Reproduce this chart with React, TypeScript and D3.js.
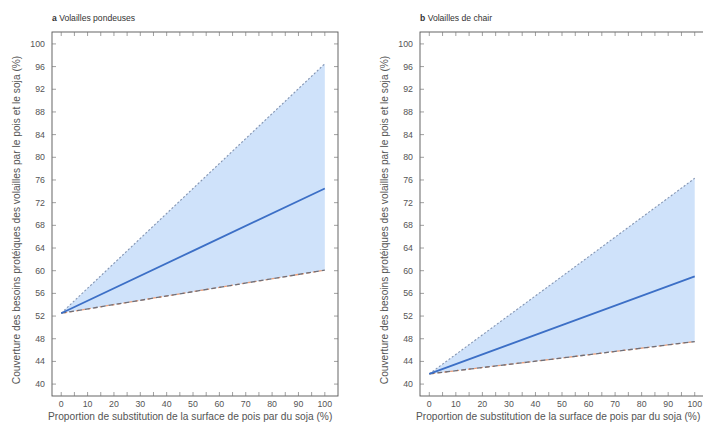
import React, { useEffect, useRef } from 'react';
import * as d3 from 'd3';

// substitution share (%) where values were read
const substitution = [0, 50, 100];

// a: laying hens
const layersMean = [52.5, 63.5, 74.5];
const layersHigh = [52.5, 74.5, 96.5];
const layersLow = [52.5, 56.3, 60.1];

// b: broilers
const broilersMean = [41.8, 50.4, 59.0];
const broilersHigh = [41.8, 59.0, 76.3];
const broilersLow = [41.8, 44.6, 47.5];

const yTicks = d3.range(40, 101, 4);
const xLabelTicks = d3.range(0, 101, 10);
const xMinorTicks = d3.range(0, 101, 5);

const yTitle = 'Couverture des besoins protéiques des volailles par le pois et le soja (%)';
const xTitle = 'Proportion de substitution de la surface de pois par du soja (%)';

interface PanelSpec {
  letter: string;
  title: string;
  mean: number[];
  high: number[];
  low: number[];
  left: number;
  right: number;
}

const panels: PanelSpec[] = [
  { letter: 'a', title: 'Volailles pondeuses', mean: layersMean, high: layersHigh, low: layersLow, left: 52, right: 338 },
  { letter: 'b', title: 'Volailles de chair', mean: broilersMean, high: broilersHigh, low: broilersLow, left: 420, right: 708 },
];

const TOP = 32;
const BOTTOM = 396;
const FONT = 'Liberation Sans, Arial, sans-serif';

export default function App() {
  const svgRef = useRef<SVGSVGElement>(null);

  useEffect(() => {
    if (!svgRef.current) return;
    const svg = d3.select(svgRef.current);
    svg.selectAll('*').remove();

    panels.forEach(p => {
      const x = d3.scaleLinear().domain([-3.5, 105]).range([p.left, p.right]);
      const y = d3.scaleLinear().domain([37.9, 102.1]).range([BOTTOM, TOP]);
      const g = svg.append('g');

      const pts = substitution.map((s, i) => ({ s, m: p.mean[i], h: p.high[i], l: p.low[i] }));

      // uncertainty band
      const area = d3.area<typeof pts[0]>()
        .x(d => x(d.s))
        .y0(d => y(d.l))
        .y1(d => y(d.h));
      g.append('path').attr('d', area(pts)).attr('fill', '#cfe2fa');

      const line = (key: 'm' | 'h' | 'l') =>
        d3.line<typeof pts[0]>().x(d => x(d.s)).y(d => y(d[key]))(pts);

      // upper bound, dotted
      g.append('path').attr('d', line('h')).attr('fill', 'none')
        .attr('stroke', '#8596b3').attr('stroke-width', 1.1).attr('stroke-dasharray', '2,2');
      // lower bound, dashed (two overlapped scenarios)
      g.append('path').attr('d', line('l')).attr('fill', 'none')
        .attr('stroke', '#eea07a').attr('stroke-width', 1.3).attr('stroke-dasharray', '3,3')
        .attr('stroke-dashoffset', 3);
      g.append('path').attr('d', line('l')).attr('fill', 'none')
        .attr('stroke', '#6f6f78').attr('stroke-width', 1.3).attr('stroke-dasharray', '5,3');
      // mean
      g.append('path').attr('d', line('m')).attr('fill', 'none')
        .attr('stroke', '#3c6fc6').attr('stroke-width', 1.8);

      // frame
      g.append('rect')
        .attr('x', p.left).attr('y', TOP)
        .attr('width', p.right - p.left).attr('height', BOTTOM - TOP)
        .attr('fill', 'none').attr('stroke', '#555').attr('stroke-width', 0.9);

      const tickColor = '#777';
      // x ticks top & bottom, inward
      xMinorTicks.forEach(t => {
        g.append('line').attr('x1', x(t)).attr('x2', x(t)).attr('y1', TOP).attr('y2', TOP + 4)
          .attr('stroke', tickColor).attr('stroke-width', 0.7);
        g.append('line').attr('x1', x(t)).attr('x2', x(t)).attr('y1', BOTTOM).attr('y2', BOTTOM - 4)
          .attr('stroke', tickColor).attr('stroke-width', 0.7);
      });
      // y ticks left & right, inward
      yTicks.forEach(t => {
        g.append('line').attr('x1', p.left).attr('x2', p.left + 4).attr('y1', y(t)).attr('y2', y(t))
          .attr('stroke', tickColor).attr('stroke-width', 0.7);
        g.append('line').attr('x1', p.right).attr('x2', p.right - 4).attr('y1', y(t)).attr('y2', y(t))
          .attr('stroke', tickColor).attr('stroke-width', 0.7);
      });

      // tick labels
      g.selectAll('text.ylab').data(yTicks).enter().append('text')
        .attr('class', 'ylab')
        .attr('x', p.left - 7).attr('y', d => y(d) + 3)
        .attr('text-anchor', 'end').attr('font-size', 8.8).attr('font-family', FONT)
        .attr('fill', '#555').text(d => d);
      g.selectAll('text.xlab').data(xLabelTicks).enter().append('text')
        .attr('class', 'xlab')
        .attr('x', d => x(d)).attr('y', BOTTOM + 10.5)
        .attr('text-anchor', 'middle').attr('font-size', 8.8).attr('font-family', FONT)
        .attr('fill', '#555').text(d => d);

      // axis titles
      g.append('text')
        .attr('x', p.left - 4).attr('y', BOTTOM + 24)
        .attr('font-size', 10.2).attr('font-family', FONT).attr('fill', '#555')
        .text(xTitle);
      const yc = (TOP + BOTTOM) / 2 + 6;
      g.append('text')
        .attr('transform', `translate(${p.left - 32},${yc}) rotate(-90)`)
        .attr('text-anchor', 'middle')
        .attr('font-size', 10.2).attr('font-family', FONT).attr('fill', '#555')
        .text(yTitle);

      // panel title
      const title = g.append('text')
        .attr('x', p.left).attr('y', 21)
        .attr('font-size', 8.6).attr('font-family', FONT).attr('fill', '#333');
      title.append('tspan').attr('font-weight', 'bold').text(p.letter + ' ');
      title.append('tspan').text(p.title);
    });
  }, []);

  return (
    <svg
      ref={svgRef}
      width={703}
      height={423}
      style={{ position: 'absolute', left: 0, top: 0, background: '#fff' }}
    />
  );
}
